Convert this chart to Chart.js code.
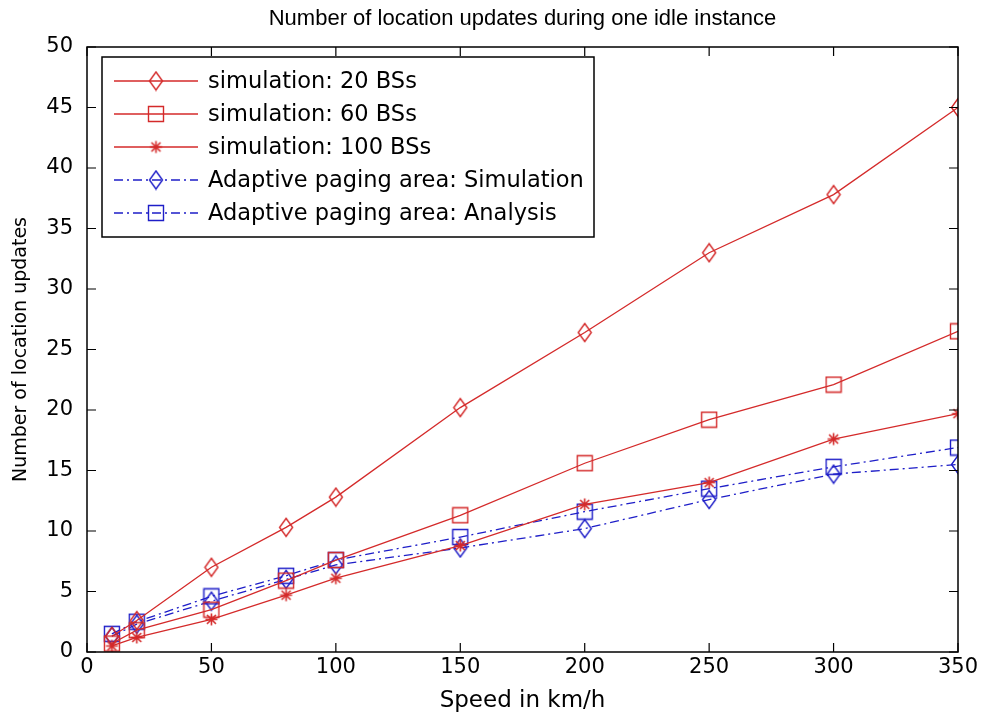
<!DOCTYPE html>
<html>
<head>
<meta charset="utf-8">
<script src="https://cdn.jsdelivr.net/npm/chart.js@4.4.0/dist/chart.umd.min.js"></script>
<style>
  html, body { margin: 0; padding: 0; background: #fff; }
  #wrap { width: 982px; height: 719px; }
</style>
</head>
<body>
<div id="wrap"><canvas id="chart" width="982" height="719"></canvas></div>
<script>
// ---- data ----
const speeds = [10, 20, 50, 80, 100, 150, 200, 250, 300, 350];
const sim20 = [1.3, 2.6, 7.0, 10.3, 12.8, 20.2, 26.4, 33.0, 37.8, 45.0];
const sim60 = [0.7, 1.8, 3.5, 5.9, 7.6, 11.3, 15.6, 19.2, 22.1, 26.5];
const sim100 = [0.5, 1.2, 2.7, 4.7, 6.1, 8.8, 12.2, 14.0, 17.6, 19.7];
const adaptSim = [1.3, 2.3, 4.2, 6.0, 7.2, 8.6, 10.2, 12.6, 14.7, 15.5];
const adaptAna = [1.5, 2.5, 4.6, 6.3, 7.6, 9.5, 11.6, 13.5, 15.3, 16.9];
const xTicks = [0, 50, 100, 150, 200, 250, 300, 350];
const yTicks = [0, 5, 10, 15, 20, 25, 30, 35, 40, 45, 50];

const RED = "#d42a2a";
const BLUE = "#1e1ec8";
const FONT = "'DejaVu Sans', Verdana, sans-serif";

function toPoints(ys){
    return speeds.map((x, i) => ({x: x, y: ys[i]}));
}

// hollow matlab-like markers as little canvases (diamond is taller than wide)
function marker(kind, color){
    let c = document.createElement("canvas");
    let w = kind === "diamond" ? 16 : (kind === "star" ? 15 : 18);
    let h = kind === "diamond" ? 21 : (kind === "star" ? 15 : 18);
    c.width = w; c.height = h;
    let g = c.getContext("2d");
    g.strokeStyle = color;
    g.lineWidth = 1.4;
    g.beginPath();
    if(kind === "diamond"){
        g.moveTo(w / 2, 1.5); g.lineTo(w - 1.5, h / 2);
        g.lineTo(w / 2, h - 1.5); g.lineTo(1.5, h / 2); g.closePath();
    }else if(kind === "square"){
        g.rect(1.5, 1.5, w - 3, h - 3);
    }else{
        let cx = w / 2, cy = h / 2, r = 6;
        g.lineWidth = 1.6;
        g.moveTo(cx - r, cy); g.lineTo(cx + r, cy);
        g.moveTo(cx, cy - r); g.lineTo(cx, cy + r);
        g.moveTo(cx - r * 0.75, cy - r * 0.75); g.lineTo(cx + r * 0.75, cy + r * 0.75);
        g.moveTo(cx - r * 0.75, cy + r * 0.75); g.lineTo(cx + r * 0.75, cy - r * 0.75);
    }
    g.stroke();
    return c;
}

function makeSet(label, ys, color, kind, dashed){
    return {
        label: label,
        data: toPoints(ys),
        borderColor: color,
        backgroundColor: "rgba(0,0,0,0)",
        borderWidth: 1.3,
        borderDash: dashed ? [9, 4, 2, 4] : [],
        pointStyle: marker(kind, color),
        pointRadius: 8,
        tension: 0
    };
}

const datasets = [
    makeSet("simulation: 20 BSs", sim20, RED, "diamond", false),
    makeSet("simulation: 60 BSs", sim60, RED, "square", false),
    makeSet("simulation: 100 BSs", sim100, RED, "star", false),
    makeSet("Adaptive paging area: Simulation", adaptSim, BLUE, "diamond", true),
    makeSet("Adaptive paging area: Analysis", adaptAna, BLUE, "square", true)
];

// matlab-ish frame: box, inward ticks, title, legend box
const frame = {
    id: "frame",
    afterDraw(chart){
        const ctx = chart.ctx;
        const a = chart.chartArea;
        const xs = chart.scales.x, ys = chart.scales.y;
        ctx.save();
        ctx.strokeStyle = "#000";
        ctx.lineWidth = 1.5;
        ctx.strokeRect(a.left, a.top, a.right - a.left, a.bottom - a.top);
        ctx.lineWidth = 1.2;
        ctx.beginPath();
        xTicks.forEach(v => {
            let px = xs.getPixelForValue(v);
            ctx.moveTo(px, a.bottom); ctx.lineTo(px, a.bottom - 9);
            ctx.moveTo(px, a.top); ctx.lineTo(px, a.top + 9);
        });
        yTicks.forEach(v => {
            let py = ys.getPixelForValue(v);
            ctx.moveTo(a.left, py); ctx.lineTo(a.left + 9, py);
            ctx.moveTo(a.right, py); ctx.lineTo(a.right - 9, py);
        });
        ctx.stroke();

        // title
        ctx.fillStyle = "#000";
        ctx.font = "22px 'Liberation Sans Narrow', 'Liberation Sans', sans-serif";
        ctx.textAlign = "center";
        ctx.textBaseline = "middle";
        ctx.fillText("Number of location updates during one idle instance", (a.left + a.right) / 2, 19);

        // legend
        const lx = 102, ly = 57, lw = 492, lh = 180;
        ctx.fillStyle = "#fff";
        ctx.fillRect(lx, ly, lw, lh);
        ctx.strokeStyle = "#000";
        ctx.lineWidth = 1.5;
        ctx.strokeRect(lx, ly, lw, lh);
        ctx.font = "22.5px " + FONT;
        ctx.textAlign = "left";
        datasets.forEach((ds, i) => {
            let y = ly + 24 + i * 33;
            ctx.strokeStyle = ds.borderColor;
            ctx.lineWidth = 1.3;
            ctx.setLineDash(ds.borderDash);
            ctx.beginPath();
            ctx.moveTo(lx + 12, y); ctx.lineTo(lx + 96, y);
            ctx.stroke();
            ctx.setLineDash([]);
            let m = ds.pointStyle;
            ctx.drawImage(m, lx + 54 - m.width / 2, y - m.height / 2);
            ctx.fillStyle = "#000";
            ctx.fillText(ds.label, lx + 106, y + 1);
        });
        ctx.restore();
    }
};

new Chart(document.getElementById("chart"), {
    type: "line",
    data: { datasets: datasets },
    options: {
        responsive: false,
        animation: false,
        layout: { padding: { top: 47, right: 24, left: 0, bottom: 0 } },
        plugins: {
            legend: { display: false },
            tooltip: { enabled: false },
            title: { display: false }
        },
        scales: {
            x: {
                type: "linear",
                min: 0, max: 350,
                afterBuildTicks: s => { s.ticks = xTicks.map(v => ({value: v})); },
                grid: { display: false, drawTicks: false },
                border: { display: false },
                ticks: { color: "#000", font: { family: FONT, size: 21 }, padding: 3, maxRotation: 0 },
                title: { display: true, text: "Speed in km/h", color: "#000", font: { family: FONT, size: 23 }, padding: { top: 0, bottom: 4 } },
                afterFit: s => { s.height = 719 - 652; }
            },
            y: {
                type: "linear",
                min: 0, max: 50,
                afterBuildTicks: s => { s.ticks = yTicks.map(v => ({value: v})); },
                grid: { display: false, drawTicks: false },
                border: { display: false },
                ticks: { color: "#000", font: { family: FONT, size: 21 }, padding: 14 },
                title: { display: true, text: "Number of location updates", color: "#000", font: { family: FONT, size: 19 }, padding: { top: 10, bottom: 2 } },
                afterFit: s => { s.width = 87; }
            }
        }
    },
    plugins: [frame]
});
</script>
</body>
</html>
